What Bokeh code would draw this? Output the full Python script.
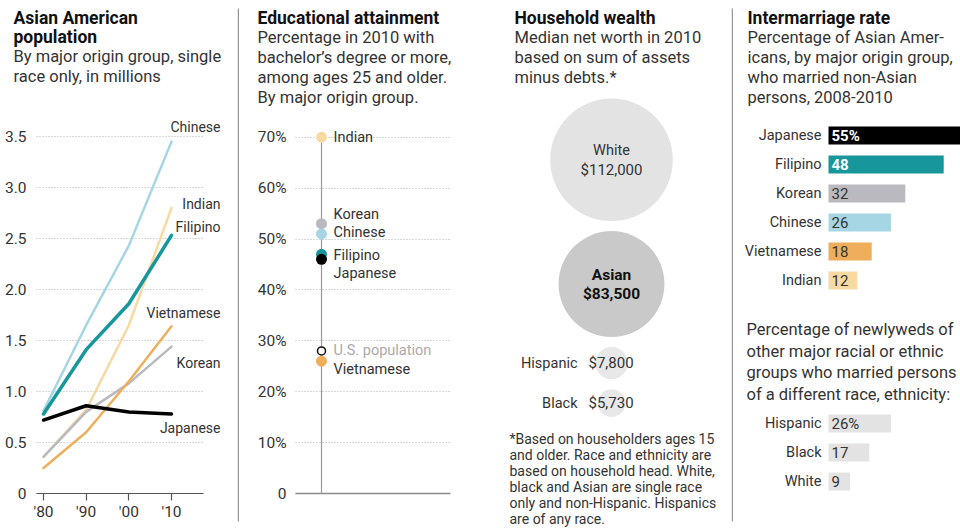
from bokeh.plotting import figure
from bokeh.layouts import row
from bokeh.models import Range1d, FixedTicker, Label, BoxAnnotation
from bokeh.embed import file_html
from bokeh.resources import INLINE

FONT = "Roboto"
TXT = "#1a1a1a"
SUB = "#333333"
H = 529

# ---------------- data ----------------
years = [1980, 1990, 2000, 2010]
year_labels = ["'80", "'90", "'00", "'10"]
pop_groups = ["Chinese", "Indian", "Korean", "Vietnamese", "Filipino", "Japanese"]
pop_chinese = [0.81, 1.65, 2.43, 3.45]
pop_indian = [0.36, 0.82, 1.65, 2.80]
pop_korean = [0.36, 0.80, 1.08, 1.44]
pop_vietnamese = [0.25, 0.60, 1.10, 1.64]
pop_filipino = [0.78, 1.41, 1.86, 2.53]
pop_japanese = [0.72, 0.86, 0.80, 0.78]
pop_ticks = [0, 0.5, 1.0, 1.5, 2.0, 2.5, 3.0, 3.5]
pop_tick_labels = ["0", "0.5", "1.0", "1.5", "2.0", "2.5", "3.0", "3.5"]

edu_groups = ["Indian", "Korean", "Chinese", "Filipino", "Japanese", "U.S. population", "Vietnamese"]
edu_values = [70, 53, 51, 47, 46, 28, 26]
edu_ticks = [0, 10, 20, 30, 40, 50, 60, 70]
edu_tick_labels = ["0", "10%", "20%", "30%", "40%", "50%", "60%", "70%"]

wealth_groups = ["White", "Asian", "Hispanic", "Black"]
wealth_values = [112000, 83500, 7800, 5730]
wealth_labels = ["$112,000", "$83,500", "$7,800", "$5,730"]

inter_groups = ["Japanese", "Filipino", "Korean", "Chinese", "Vietnamese", "Indian"]
inter_values = [55, 48, 32, 26, 18, 12]
inter_labels = ["55%", "48", "32", "26", "18", "12"]

other_groups = ["Hispanic", "Black", "White"]
other_values = [26, 17, 9]
other_labels = ["26%", "17", "9"]

COL = {
    "Chinese": "#a6d6e3",
    "Indian": "#f7d9a2",
    "Filipino": "#17969c",
    "Vietnamese": "#efae5c",
    "Korean": "#b9b9bf",
    "Japanese": "#000000",
}


def make_fig(width, x_range, y_range, xloc=None, yloc=None):
    p = figure(width=width, height=H, x_range=x_range, y_range=y_range,
               output_backend="svg", toolbar_location=None,
               x_axis_location=xloc, y_axis_location=yloc,
               min_border_left=0, min_border_right=0, min_border_top=0, min_border_bottom=0)
    p.background_fill_color = "white"
    p.border_fill_color = "white"
    p.outline_line_color = None
    return p


def lab(p, x, y, text, size="15px", bold=False, color=TXT, align="left",
        baseline="middle", units="data", xo=0, yo=0):
    p.add_layout(Label(x=x, y=y, text=text, x_units=units, y_units=units,
                       text_font=FONT, text_font_size=size,
                       text_font_style="bold" if bold else "normal",
                       text_color=color, text_align=align, text_baseline=baseline,
                       x_offset=xo, y_offset=yo))


def header(p, x_local, lines):
    # lines: (text, canvas y, bold); screen units measured from frame bottom-left
    for text, y, bold in lines:
        lab(p, x_local, H - y, text, size="17.5px" if bold else "16.5px", bold=bold,
            color="#111111" if bold else SUB, units="screen")


def separator(p, x_local):
    p.add_layout(BoxAnnotation(left=x_local, right=x_local + 1.5, top=H - 8, bottom=H - 521,
                               left_units="screen", right_units="screen",
                               top_units="screen", bottom_units="screen",
                               fill_color="#9a9a9a", fill_alpha=1.0, line_color=None))


def dotted_grid(p, cross):
    p.xgrid.visible = False
    p.ygrid.grid_line_color = "#b0b0b0"
    p.ygrid.grid_line_dash = "1 2"
    try:
        p.ygrid.cross_bounds = cross
    except Exception:
        pass


def tick_style(ax, size="15.5px"):
    ax.major_label_text_font = FONT
    ax.major_label_text_font_size = size
    ax.major_label_text_color = SUB
    ax.minor_tick_line_color = None


# ---------------- panel 1: population lines ----------------
PX1 = 4.267   # px per year
PY1 = 102.0   # px per million
X1_LEFT = 1980 - 43 / PX1
p1 = make_fig(237, Range1d(X1_LEFT, X1_LEFT + 237 / PX1),
              Range1d(-36 / PY1, 493 / PY1), xloc="above", yloc="left")
p1.yaxis.ticker = FixedTicker(ticks=pop_ticks)
p1.yaxis.major_label_overrides = {t: l for t, l in zip(pop_ticks, pop_tick_labels)}
p1.yaxis.axis_line_color = None
p1.yaxis.major_tick_line_color = None
p1.yaxis.major_label_standoff = -32
tick_style(p1.yaxis)
p1.xaxis.ticker = FixedTicker(ticks=years)
p1.xaxis.major_label_overrides = {t: l for t, l in zip(years, year_labels)}
p1.xaxis.fixed_location = 0
p1.xaxis.bounds = (X1_LEFT + 36 / PX1 - 0.0, X1_LEFT + 203 / PX1)
p1.xaxis.axis_line_color = "#555555"
p1.xaxis.axis_line_width = 1.2
p1.xaxis.major_tick_line_color = "#555555"
p1.xaxis.major_tick_line_width = 1.2
p1.xaxis.major_tick_in = 7
p1.xaxis.major_tick_out = 0
p1.xaxis.major_label_standoff = -27
tick_style(p1.xaxis)
dotted_grid(p1, (X1_LEFT + 36 / PX1, X1_LEFT + 203 / PX1))

series = {
    "Chinese": (pop_chinese, 2.5, 15),
    "Indian": (pop_indian, 2.5, 4),
    "Korean": (pop_korean, 2.5, -16),
    "Vietnamese": (pop_vietnamese, 2.5, 13),
    "Filipino": (pop_filipino, 3.5, 8),
    "Japanese": (pop_japanese, 3.5, -14),
}
for g in pop_groups:
    vals, w, yo = series[g]
    p1.line(years, vals, line_color=COL[g], line_width=w, line_cap="round", line_join="round")
for g in pop_groups:
    vals, w, yo = series[g]
    lab(p1, years[-1], vals[-1], g, size="14px", color=SUB, align="right", xo=49, yo=yo)

header(p1, 13, [("Asian American", 17, True), ("population", 36, True),
                ("By major origin group, single", 56, False),
                ("race only, in millions", 76, False)])

# ---------------- panel 2: education dots ----------------
PY2 = 5.09    # px per percentage point
p2 = make_fig(253, Range1d(-84, 169), Range1d(-36 / PY2, 493 / PY2), xloc=None, yloc="left")
p2.yaxis.ticker = FixedTicker(ticks=edu_ticks)
p2.yaxis.major_label_overrides = {t: l for t, l in zip(edu_ticks, edu_tick_labels)}
p2.yaxis.axis_line_color = None
p2.yaxis.major_tick_line_color = None
p2.yaxis.major_label_standoff = -55
tick_style(p2.yaxis)
dotted_grid(p2, (-26, 129))

p2.segment(x0=[-26], y0=[0], x1=[129], y1=[0], line_color="#8a8a8a", line_width=1.5)
p2.segment(x0=[0], y0=[0], x1=[0], y1=[max(edu_values)], line_color="#9a9a9a", line_width=1.2)
edu_offsets = {"Indian": 0, "Korean": 9, "Chinese": 1, "Filipino": -1, "Japanese": -14,
               "U.S. population": 0, "Vietnamese": -8}
for g, v in zip(edu_groups, edu_values):
    if g == "U.S. population":
        p2.scatter([0], [v], size=8, fill_color="white", line_color="#111111", line_width=1.5)
    else:
        p2.scatter([0], [v], size=11, fill_color=COL[g], line_color=None)
for g, v in zip(edu_groups, edu_values):
    lab(p2, 0, v, g, size="14.5px", color="#aaaaaa" if g == "U.S. population" else SUB,
        xo=12, yo=edu_offsets[g])

header(p2, 20, [("Educational attainment", 17, True),
                ("Percentage in 2010 with", 37, False),
                ("bachelor\u2019s degree or more,", 57, False),
                ("among ages 25 and older.", 77, False),
                ("By major origin group.", 97, False)])
separator(p2, 0)

# ---------------- panel 3: wealth circles ----------------
p3 = make_fig(241, Range1d(0, 241), Range1d(H, 0))
p3.xgrid.visible = False
p3.ygrid.visible = False

R_MAX = 61.3
CX = 121
GAP = 10
wealth_fill = ["#e3e3e3", "#c9c9c9", "#e8e8e8", "#e8e8e8"]
top = 98
centers = []
radii = []
for v in wealth_values:
    r = R_MAX * (v / max(wealth_values)) ** 0.5
    centers.append(top + r)
    radii.append(r)
    top = top + 2 * r + GAP
p3.circle(x=[CX] * len(centers), y=centers, radius=radii, fill_color=wealth_fill, line_color=None)

lab(p3, CX, centers[0], wealth_groups[0], size="14.5px", color=SUB, align="center", yo=9)
lab(p3, CX, centers[0], wealth_labels[0], size="15px", color=SUB, align="center", yo=-10)
lab(p3, CX, centers[1], wealth_groups[1], size="15.5px", bold=True, color="#111111", align="center", yo=9)
lab(p3, CX, centers[1], wealth_labels[1], size="15.5px", bold=True, color="#111111", align="center", yo=-10)
for i in (2, 3):
    lab(p3, CX, centers[i], wealth_groups[i], size="14.5px", color=SUB, align="right", xo=-34)
    lab(p3, CX, centers[i], wealth_labels[i], size="15px", color=SUB, align="left", xo=-23)

foot = ["*Based on householders ages 15",
        "and older. Race and ethnicity are",
        "based on household head. White,",
        "black and Asian are single race",
        "only and non-Hispanic. Hispanics",
        "are of any race."]
for i, t in enumerate(foot):
    lab(p3, 19, 438 + 16 * i, t, size="14px", color=SUB)

header(p3, 24, [("Household wealth", 17, True),
                ("Median net worth in 2010", 37, False),
                ("based on sum of assets", 57, False),
                ("minus debts.*", 77, False)])

# ---------------- panel 4: intermarriage bars ----------------
PX4 = 2.4
p4 = make_fig(229, Range1d(-97 / PX4, 132 / PX4), Range1d(H, 0))
p4.xgrid.visible = False
p4.ygrid.visible = False

rows1 = [135 + 29 * i for i in range(len(inter_groups))]
p4.hbar(y=rows1, left=0, right=inter_values, height=18,
        fill_color=[COL[g] for g in inter_groups], line_color=None)
for g, t, y in zip(inter_groups, inter_labels, rows1):
    lab(p4, 0, y, g, size="14.5px", color=SUB, align="right", xo=-7)
    white = g in ("Japanese", "Filipino")
    lab(p4, 0, y, t, size="15px", bold=white, color="white" if white else SUB, xo=3)

rows2 = [423 + 29 * i for i in range(len(other_groups))]
p4.hbar(y=rows2, left=0, right=other_values, height=18, fill_color="#e3e3e3", line_color=None)
for g, t, y in zip(other_groups, other_labels, rows2):
    lab(p4, 0, y, g, size="14.5px", color=SUB, align="right", xo=-7)
    lab(p4, 0, y, t, size="15px", color=SUB, xo=3)

mid = ["Percentage of newlyweds of", "other major racial or ethnic",
       "groups who married persons", "of a different race, ethnicity:"]
for i, t in enumerate(mid):
    lab(p4, 15, H - (329 + 21.5 * i), t, size="16.5px", color=SUB, units="screen")

header(p4, 16, [("Intermarriage rate", 17, True),
                ("Percentage of Asian Amer-", 37, False),
                ("icans, by major origin group,", 57, False),
                ("who married non-Asian", 77, False),
                ("persons, 2008-2010", 97, False)])
separator(p4, 0)

layout = row(p1, p2, p3, p4)
open("out.html", "w").write(file_html(layout, INLINE))
